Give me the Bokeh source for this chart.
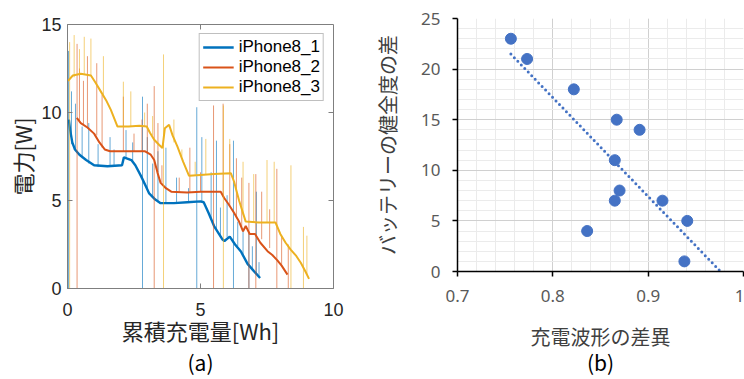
import numpy as np
from bokeh.plotting import figure
from bokeh.layouts import row, column
from bokeh.models import (FixedTicker, SingleIntervalTicker, Legend, LegendItem, LinearAxis,
                          CustomJSTickFormatter)
from bokeh.embed import file_html
from bokeh.resources import INLINE

# ---------------- (a) charging power vs. accumulated charge ----------------
series_names = ["iPhone8_1", "iPhone8_2", "iPhone8_3"]
series_colors = ["#0072BD", "#D95319", "#EDB120"]

# smoothed traces [Wh] / [W]
p8_1_x = [0.05, 0.10, 0.18, 0.28, 0.45, 0.7, 1.0, 1.5, 2.05, 2.12, 2.4, 2.55, 2.76, 2.95,
          3.07, 3.3, 3.5, 4.0, 4.5, 5.0, 5.12, 5.3, 5.51, 5.83, 5.9, 6.1, 6.3, 6.52, 6.77, 7.0, 7.24]
p8_1_y = [9.6, 9.0, 8.3, 7.9, 7.6, 7.3, 7.0, 6.95, 7.0, 7.45, 7.3, 7.0, 6.4, 5.8,
          5.4, 5.05, 4.85, 4.85, 4.9, 4.95, 4.9, 4.3, 3.55, 2.78, 2.7, 2.95, 2.5, 2.1, 1.4, 1.0, 0.6]

p8_2_x = [0.35, 0.5, 0.75, 1.0, 1.2, 1.4, 1.6, 2.0, 2.5, 2.9, 3.13, 3.26, 3.38, 3.5, 3.7, 3.9,
          4.5, 5.0, 5.5, 5.76, 5.89, 6.05, 6.26, 6.45, 6.6, 6.7, 6.85, 7.05, 7.25, 7.52, 7.7,
          7.89, 8.05, 8.27]
p8_2_y = [9.7, 9.4, 9.15, 8.8, 8.3, 7.9, 7.8, 7.8, 7.8, 7.8, 7.6, 7.3, 6.6, 6.0, 5.7, 5.5,
          5.45, 5.5, 5.5, 5.5, 5.14, 4.8, 4.3, 3.8, 3.25, 3.55, 3.1, 3.1, 2.6, 2.12, 1.9,
          1.6, 1.3, 0.79]

p8_3_x = [0.02, 0.2, 0.5, 0.88, 1.05, 1.25, 1.45, 1.63, 1.88, 2.3, 2.7, 2.98, 3.1, 3.26, 3.45,
          3.57, 3.66, 3.82, 3.95, 4.13, 4.35, 4.57, 5.0, 5.5, 6.14, 6.26, 6.45, 6.7, 7.2, 7.82,
          8.0, 8.2, 8.39, 8.6, 8.77, 8.95, 9.08]
p8_3_y = [11.8, 12.1, 12.2, 12.1, 11.7, 11.2, 10.7, 10.15, 9.2, 9.2, 9.25, 9.2, 8.85, 8.45, 8.15,
          7.98, 9.1, 9.3, 8.7, 8.07, 7.2, 6.4, 6.45, 6.5, 6.55, 6.08, 5.0, 3.8, 3.75, 3.75,
          3.1, 2.6, 2.21, 1.85, 1.46, 0.95, 0.55]

# transient spikes: position, lower end, upper end
p8_1_spk_x = [0.04, 0.15, 0.3, 0.55, 0.8, 1.15, 1.6, 1.75, 2.2, 2.45, 2.82, 3.0, 3.2, 3.4, 3.7,
              4.1, 4.55, 4.86, 5.05, 5.4, 5.6, 5.75, 6.0, 6.24, 6.4, 6.6, 6.82, 6.95, 7.1, 7.2]
p8_1_spk_lo = [0, 8.2, 7.9, 7.4, 7.1, 6.9, 6.95, 6.95, 7.4, 7.2, 0, 5.6, 5.2, 4.9, 4.85,
               4.85, 4.9, 0, 4.9, 4.0, 3.3, 2.9, 2.9, 0, 2.4, 1.9, 0, 1.1, 0.85, 0.7]
p8_1_spk_hi = [13.5, 11.2, 10.5, 9.2, 9.4, 8.2, 8.6, 7.9, 9.0, 8.3, 10.9, 8.6, 7.1, 7.8, 8.0,
               6.3, 5.7, 10.3, 8.6, 6.6, 8.4, 4.6, 5.3, 8.4, 3.8, 3.3, 3.2, 2.4, 5.5, 1.5]

p8_2_spk_x = [0.36, 0.45, 0.6, 0.75, 1.1, 1.3, 2.1, 2.5, 2.8, 3.0, 3.26, 3.4, 3.55, 4.2, 4.6,
              5.0, 5.49, 5.85, 6.1, 6.35, 6.55, 6.82, 7.08, 7.3, 7.6, 7.87, 8.05, 8.3]
p8_2_spk_lo = [0, 9.4, 9.3, 9.1, 8.7, 8.0, 7.8, 7.8, 7.8, 7.7, 0, 6.6, 5.9, 5.45, 5.45,
               5.5, 0, 5.2, 4.7, 4.0, 3.4, 0, 0, 2.8, 2.3, 0, 1.3, 0]
p8_2_spk_hi = [13.9, 12.5, 11.8, 13.2, 12.8, 11.0, 10.9, 8.8, 9.6, 10.5, 11.5, 9.4, 7.0, 6.3, 8.0,
               6.6, 10.4, 10.5, 8.2, 7.4, 6.3, 6.0, 6.5, 5.5, 4.5, 6.8, 3.0, 2.5]

p8_3_spk_x = [0.08, 0.25, 0.45, 0.63, 0.88, 1.35, 2.1, 2.38, 2.9, 3.2, 3.61, 4.0, 4.3, 4.8,
              5.2, 5.86, 6.1, 6.6, 7.0, 7.5, 7.77, 8.4, 8.87, 9.0]
p8_3_spk_lo = [0, 12.0, 12.1, 12.2, 12.1, 11.0, 9.2, 9.2, 9.2, 8.7, 0, 8.3, 7.5, 6.45,
               6.5, 0, 6.55, 4.2, 3.75, 3.75, 3.75, 0, 0, 0.8]
p8_3_spk_hi = [14.0, 14.4, 13.6, 14.3, 14.2, 13.2, 11.75, 11.2, 10.0, 9.8, 13.3, 9.6, 7.9, 7.2,
               8.5, 10.4, 8.5, 7.2, 6.5, 7.3, 7.2, 7.0, 3.5, 3.0]

traces = [(p8_1_x, p8_1_y, p8_1_spk_x, p8_1_spk_lo, p8_1_spk_hi, 2.4),
          (p8_2_x, p8_2_y, p8_2_spk_x, p8_2_spk_lo, p8_2_spk_hi, 2.0),
          (p8_3_x, p8_3_y, p8_3_spk_x, p8_3_spk_lo, p8_3_spk_hi, 2.0)]

a_x_ticks = [0, 5, 10]
a_y_ticks = [0, 5, 10, 15]
A_XMAX, A_YMAX = 10, 15

AX_GRAY = "#7f7f7f"
TXT_A = "#262626"
CJK = "Noto Sans CJK JP"


def caption_axis(text, standoff):
    """Tick-less axis that only carries a panel caption below the real x axis."""
    return LinearAxis(ticker=FixedTicker(ticks=[]), axis_line_color=None,
                      major_tick_line_color=None, minor_tick_line_color=None,
                      major_tick_out=0, major_tick_in=0, major_label_standoff=0,
                      axis_label=text, axis_label_standoff=standoff,
                      axis_label_text_font=CJK, axis_label_text_font_size="21px",
                      axis_label_text_font_style="normal", axis_label_text_color="#000000")


A_FRAME_W, A_FRAME_H = 266, 265
pa = figure(width=370, height=379, x_range=(0, A_XMAX), y_range=(0, A_YMAX),
            output_backend="svg", toolbar_location=None,
            min_border_left=67, min_border_right=37, min_border_top=24, min_border_bottom=90)
pa.grid.visible = False
pa.outline_line_color = AX_GRAY

for ax in (pa.xaxis[0], pa.yaxis[0]):
    ax.major_tick_in = 5
    ax.major_tick_out = 0
    ax.minor_tick_line_color = None
    ax.axis_line_color = AX_GRAY
    ax.major_tick_line_color = AX_GRAY
    ax.major_label_text_font = "Liberation Sans"
    ax.major_label_text_font_size = "18px"
    ax.major_label_text_color = TXT_A
    ax.axis_label_text_font = CJK
    ax.axis_label_text_font_size = "22px"
    ax.axis_label_text_font_style = "normal"
    ax.axis_label_text_color = TXT_A
pa.xaxis.ticker = FixedTicker(ticks=a_x_ticks)
pa.yaxis.ticker = FixedTicker(ticks=a_y_ticks)
pa.xaxis.axis_label = "累積充電量[Wh]"
pa.yaxis.axis_label = "電力[W]"
pa.xaxis.major_label_standoff = 14
pa.yaxis.major_label_standoff = 6
pa.xaxis.axis_label_standoff = -5
pa.yaxis.axis_label_standoff = 0

# inward box ticks along the top and right edges (5 px long)
tdx = 5 * A_XMAX / A_FRAME_W
tdy = 5 * A_YMAX / A_FRAME_H
top_t = [t for t in a_x_ticks if 0 < t < A_XMAX]
right_t = [t for t in a_y_ticks if 0 < t < A_YMAX]
pa.segment(x0=top_t, y0=[A_YMAX] * len(top_t), x1=top_t, y1=[A_YMAX - tdy] * len(top_t),
           line_color=AX_GRAY, line_width=1)
pa.segment(x0=[A_XMAX] * len(right_t), y0=right_t, x1=[A_XMAX - tdx] * len(right_t), y1=right_t,
           line_color=AX_GRAY, line_width=1)

items = []
for (mx, my, sx, slo, shi, lw), name, col in zip(traces, series_names, series_colors):
    pa.segment(x0=sx, y0=slo, x1=sx, y1=shi, line_color=col, line_alpha=0.6, line_width=1)
    r = pa.line(mx, my, line_color=col, line_width=lw)
    items.append(LegendItem(label=name, renderers=[r]))

leg = Legend(items=items, location="top_right", margin=9, padding=3, spacing=0,
             label_height=20, glyph_height=20, glyph_width=31, label_standoff=5,
             border_line_color=AX_GRAY, label_text_font="Liberation Sans",
             label_text_font_size="17px", label_text_color="#000000")
pa.add_layout(leg)
pa.add_layout(caption_axis("(a)", -2), "below")

# ---------------- (b) waveform difference vs. battery health difference ----------------
wave_diff = [0.756, 0.773, 0.822, 0.836, 0.867, 0.891, 0.865, 0.870, 0.865, 0.915, 0.941, 0.938]
health_diff = [23, 21, 18, 4, 15, 14, 11, 8, 7, 7, 5, 1]

BLUE = "#4472C4"
TXT_B = "#595959"

pb = figure(width=374, height=379, x_range=(0.7, 1.0), y_range=(0, 25),
            output_backend="svg", toolbar_location=None,
            min_border_left=85, min_border_right=1, min_border_top=18, min_border_bottom=108)
pb.outline_line_color = None
pb.xaxis.ticker = SingleIntervalTicker(interval=0.1, num_minor_ticks=5)
pb.yaxis.ticker = SingleIntervalTicker(interval=5, num_minor_ticks=5)
pb.xaxis.formatter = CustomJSTickFormatter(
    code="return Math.abs(tick - 1) < 1e-9 ? '1' : tick.toFixed(1);")
pb.xgrid.grid_line_color = "#D0D0D0"
pb.ygrid.grid_line_color = "#D0D0D0"
pb.xgrid.minor_grid_line_color = "#EBEBEB"
pb.ygrid.minor_grid_line_color = "#EBEBEB"
for ax in (pb.xaxis[0], pb.yaxis[0]):
    ax.axis_line_color = "#000000"
    ax.axis_line_width = 1.5
    ax.major_tick_line_color = "#000000"
    ax.major_tick_line_width = 1.5
    ax.major_tick_in = 0
    ax.major_tick_out = 5
    ax.minor_tick_line_color = None
    ax.major_label_text_font = "Noto Sans"
    ax.major_label_text_font_size = "17px"
    ax.major_label_text_color = TXT_B
    ax.axis_label_text_font = CJK
    ax.axis_label_text_font_size = "20px"
    ax.axis_label_text_font_style = "normal"
    ax.axis_label_text_color = "#404040"
pb.xaxis.axis_label = "充電波形の差異"
pb.yaxis.axis_label = "バッテリーの健全度の差"
pb.xaxis.major_label_standoff = 13
pb.yaxis.major_label_standoff = 12
pb.xaxis.axis_label_standoff = 17
pb.yaxis.axis_label_standoff = 16

# least-squares trend line, extended to the right edge
slope, icpt = np.polyfit(wave_diff, health_diff, 1)
tx = [min(wave_diff), 1.0]
ty = [slope * v + icpt for v in tx]
pb.line(tx, ty, line_color=BLUE, line_width=3, line_dash="0 5", line_cap="round")
pb.scatter(wave_diff, health_diff, size=11, fill_color=BLUE, line_color=BLUE)
pb.add_layout(caption_axis("(b)", -7), "below")

layout = row(column(pa), column(pb))
with open("out.html", "w") as f:
    f.write(file_html(layout, INLINE))
